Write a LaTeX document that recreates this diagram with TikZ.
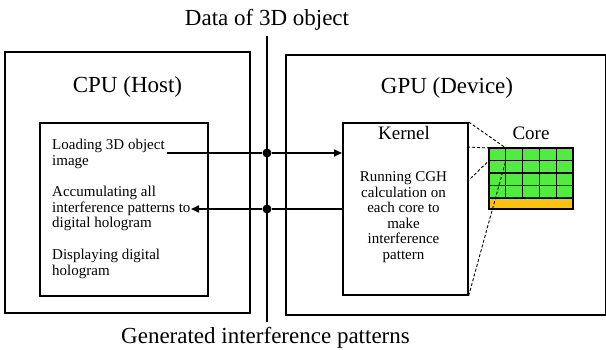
\documentclass[tikz,border=0pt]{standalone}
\usepackage{fontspec}
\setmainfont{Liberation Serif}
\usetikzlibrary{arrows.meta}
\definecolor{coregreen}{RGB}{80,236,64}
\definecolor{cacheorange}{RGB}{255,194,10}
\begin{document}
\begin{tikzpicture}[x=1pt,y=-1pt,
  frame/.style={draw, line width=1.7pt, inner sep=0pt, anchor=north west},
  bigtext/.style={font=\fontsize{23}{26}\selectfont, inner sep=0pt, anchor=base},
  midtext/.style={font=\fontsize{19}{22}\selectfont, inner sep=0pt, anchor=base},
  smalltext/.style={font=\fontsize{15}{15.5}\selectfont, inner sep=0pt},
  link/.style={line width=1.6pt},
  tipped/.style={-{Triangle[length=8pt,width=7pt]}},
  junction/.style={circle, fill, inner sep=0pt, minimum size=9pt},
  zoomline/.style={dashed, line width=0.9pt, dash pattern=on 3pt off 2pt},
  gridline/.style={line width=1.2pt}
]
\useasboundingbox (0,0) rectangle (606,350);

% host and device frames
\node[frame, minimum width=245pt, minimum height=261pt] (cpu) at (4,51) {};
\node[frame, minimum width=320pt, minimum height=260pt] (gpu) at (285,54) {};
\node[frame, minimum width=168pt, minimum height=173pt] (steps) at (39,122) {};
\node[frame, minimum width=125pt, minimum height=172pt] (kernel) at (342,122) {};

% bus line between host and device
\coordinate (bustop) at (267,36);
\coordinate (busbot) at (267,322);
\draw[line width=1.4pt] (bustop) -- (busbot);

% titles
\node[bigtext] (datalbl) at (267,26) {Data of 3D object};
\node[bigtext] (genlbl) at (265.5,343) {Generated interference patterns};
\node[bigtext] (cpulbl) at (127.5,93) {CPU (Host)};
\node[bigtext] (gpulbl) at (447,94) {GPU (Device)};
\node[midtext] (kernellbl) at (404,140) {Kernel};
\node[midtext] (corelbl) at (531,140) {Core};

% host steps (base anchor sits on the last line)
\node[smalltext, anchor=base west, align=left] (load) at (52,165.5) {Loading 3D object\\image};
\node[smalltext, anchor=base west, align=left] (accum) at (52,228) {Accumulating all\\interference patterns to\\digital hologram};
\node[smalltext, anchor=base west, align=left] (disp) at (52,275.5) {Displaying digital\\hologram};

% kernel description
\node[smalltext, anchor=base, align=center] (kdesc) at (403.5,259.2) {Running CGH\\calculation on\\each core to\\make\\interference\\pattern};

% transfers across the bus
\coordinate (sendstart) at (167,153);
\coordinate (recvend) at (191,209);
\node[junction] (j1) at (267,153) {};
\node[junction] (j2) at (267,209) {};
\draw[link, tipped] (sendstart) -- (j1) -- (sendstart -| kernel.west);
\draw[link, tipped] (recvend -| kernel.west) -- (j2) -- (recvend);

% processor grid: 5 x 4 cores over a shared strip
\fill[coregreen] (489,148) rectangle (573,198);
\fill[cacheorange] (489,198) rectangle (573,209);
\foreach \i in {1,...,4} \draw[gridline] ({489+16.8*\i},148) -- ({489+16.8*\i},198);
\foreach \j in {1,...,4} \draw[gridline] (489,{148+12.5*\j}) -- (573,{148+12.5*\j});
\draw[gridline] (489,148) rectangle (573,209);

% first core corners
\coordinate (ctl) at (489,148);
\coordinate (ctr) at (505.8,148);
\coordinate (cbl) at (489,160.5);
\coordinate (cbr) at (505.8,160.5);
\coordinate (kr1) at (467,147);
\coordinate (kr2) at (467,182);

% zoom lines from kernel to one core
\draw[zoomline] (kernel.north east) -- (ctr);
\draw[zoomline] (kr1) -- (ctl);
\draw[zoomline] (kr2) -- (cbl);
\draw[zoomline] (kernel.south east) -- (cbr);
\end{tikzpicture}
\end{document}
